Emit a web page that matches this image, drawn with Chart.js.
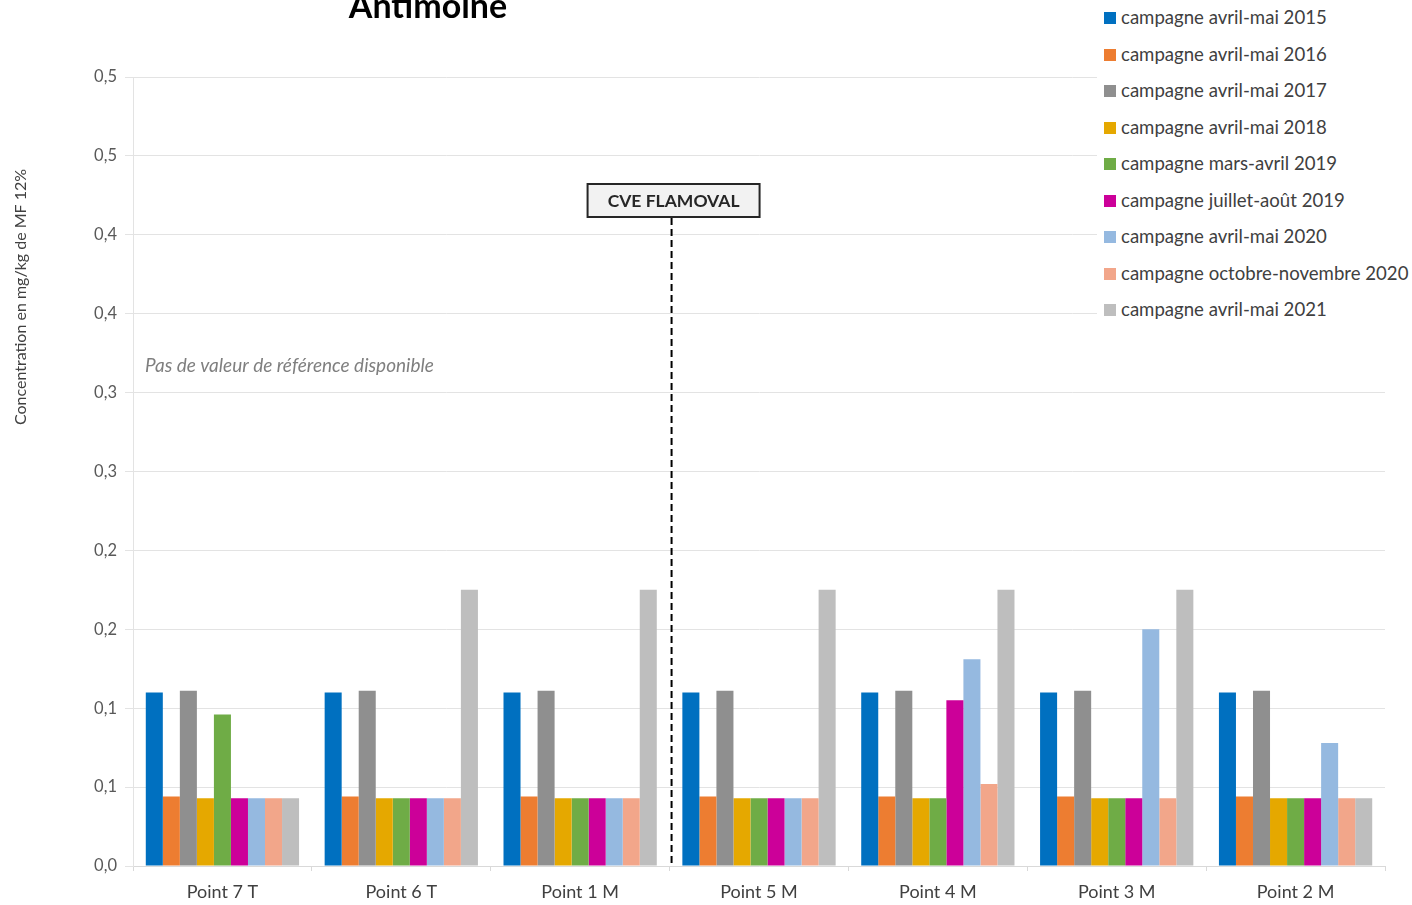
<!DOCTYPE html>
<html>
<head>
<meta charset="utf-8">
<script src="https://cdn.jsdelivr.net/npm/chart.js@4.4.1/dist/chart.umd.min.js"></script>
<style>
  html,body{margin:0;padding:0;background:#fff;}
  #wrap{position:relative;width:1412px;height:905px;overflow:hidden;}
  #legend{position:absolute;left:1097px;top:0;width:315px;height:326px;background:#fff;font-family:Lato,"Liberation Sans",sans-serif;font-size:18.6px;color:#404040;}
  .li{position:absolute;left:7px;height:22px;line-height:22px;white-space:nowrap;}
  .li span.m{display:inline-block;width:12px;height:12px;vertical-align:middle;margin-right:5px;position:relative;top:-1px;}
</style>
</head>
<body>
<div id="wrap">
  <canvas id="c" width="1412" height="905"></canvas>
  <div id="legend"></div>
</div>
<script>
const categories = ['Point 7 T','Point 6 T','Point 1 M','Point 5 M','Point 4 M','Point 3 M','Point 2 M'];
const seriesNames = ['campagne avril-mai 2015','campagne avril-mai 2016','campagne avril-mai 2017','campagne avril-mai 2018','campagne mars-avril 2019','campagne juillet-août 2019','campagne avril-mai 2020','campagne octobre-novembre 2020','campagne avril-mai 2021'];
const seriesColors = ['#0070C0','#ED7D31','#8F8F8F','#E5A800','#6FAC46','#CC0099','#95B9E0','#F2A68A','#BEBEBE'];
const s2015 = [0.110,0.110,0.110,0.110,0.110,0.110,0.110];
const s2016 = [0.044,0.044,0.044,0.044,0.044,0.044,0.044];
const s2017 = [0.111,0.111,0.111,0.111,0.111,0.111,0.111];
const s2018 = [0.043,0.043,0.043,0.043,0.043,0.043,0.043];
const s2019a = [0.096,0.043,0.043,0.043,0.043,0.043,0.043];
const s2019b = [0.043,0.043,0.043,0.043,0.105,0.043,0.043];
const s2020a = [0.043,0.043,0.043,0.043,0.131,0.150,0.078];
const s2020b = [0.043,0.043,0.043,0.043,0.052,0.043,0.043];
const s2021 = [0.043,0.175,0.175,0.175,0.175,0.175,0.043];
const seriesValues = [s2015,s2016,s2017,s2018,s2019a,s2019b,s2020a,s2020b,s2021];
const yTickLabels = ['0,0','0,1','0,1','0,2','0,2','0,3','0,3','0,4','0,4','0,5','0,5'];
const chartTitle = 'Antimoine';
const yTitle = 'Concentration en mg/kg de MF 12%';
const noteText = 'Pas de valeur de référence disponible';
const markerText = 'CVE FLAMOVAL';

const FONT = 'Lato, "Liberation Sans", sans-serif';

// HTML legend
const lg = document.getElementById('legend');
seriesNames.forEach((n,i)=>{
  const d = document.createElement('div');
  d.className='li';
  d.style.top = (6 + i*36.5)+'px';
  d.innerHTML = '<span class="m" style="background:'+seriesColors[i]+'"></span>'+n;
  lg.appendChild(d);
});

const deco = {
  id:'deco',
  afterDatasetsDraw(chart){
    const ctx = chart.ctx, x = chart.scales.x, ca = chart.chartArea;
    ctx.save();
    // title
    ctx.fillStyle='#000';
    ctx.font='bold 34px '+FONT;
    ctx.textAlign='center'; ctx.textBaseline='alphabetic';
    ctx.fillText(chartTitle, 428, 18);
    // y title
    ctx.save();
    ctx.translate(21, 297);
    ctx.rotate(-Math.PI/2);
    ctx.font='16px '+FONT;
    ctx.fillStyle='#404040';
    ctx.textAlign='center'; ctx.textBaseline='middle';
    ctx.fillText(yTitle, 0, 0);
    ctx.restore();
    // note
    ctx.font='italic 19px '+FONT;
    ctx.fillStyle='#7F7F7F';
    ctx.textAlign='left'; ctx.textBaseline='middle';
    ctx.fillText(noteText, 145, 366);
    // dashed line
    const lx = (x.getPixelForValue(2)+x.getPixelForValue(3))/2 + 2;
    ctx.strokeStyle='#000'; ctx.lineWidth=2; ctx.setLineDash([7,4]);
    ctx.beginPath(); ctx.moveTo(lx,218); ctx.lineTo(lx,ca.bottom); ctx.stroke();
    ctx.setLineDash([]);
    // box
    const bw=172,bh=33,bx=lx-84,by=184;
    ctx.fillStyle='#F2F2F2'; ctx.fillRect(bx,by,bw,bh);
    ctx.strokeStyle='#262626'; ctx.lineWidth=2; ctx.strokeRect(bx,by,bw,bh);
    ctx.fillStyle='#262626'; ctx.font='bold 17.5px '+FONT;
    ctx.textAlign='center'; ctx.textBaseline='middle';
    ctx.fillText(markerText, bx+bw/2, by+bh/2+1);
    ctx.restore();
  }
};

new Chart(document.getElementById('c'),{
  type:'bar',
  data:{
    labels:categories,
    datasets:seriesNames.map((n,i)=>({label:n,data:seriesValues[i],backgroundColor:seriesColors[i],borderWidth:0,barPercentage:1.0,categoryPercentage:0.857}))
  },
  options:{
    responsive:false,animation:false,
    layout:{padding:{left:0,right:27,top:77,bottom:0}},
    plugins:{legend:{display:false},tooltip:{enabled:false},title:{display:false}},
    scales:{
      x:{
        grid:{display:true,drawOnChartArea:false,drawTicks:true,tickLength:5,offset:true,color:'#D9D9D9'},
        border:{display:true,color:'#D9D9D9',width:1},
        ticks:{color:'#404040',font:{family:FONT,size:18},padding:10,maxRotation:0},
        afterFit(s){s.height=39;}
      },
      y:{
        min:0,max:0.5,
        grid:{color:'#E3E3E3',tickLength:8,drawTicks:true},
        border:{display:true,color:'#E3E3E3'},
        ticks:{stepSize:0.05,color:'#595959',font:{family:FONT,size:16.5},padding:8,
          callback:(v,i)=>yTickLabels[i]},
        title:{display:false},
        afterFit(s){s.width=133;}
      }
    }
  },
  plugins:[deco]
});
</script>
</body>
</html>
